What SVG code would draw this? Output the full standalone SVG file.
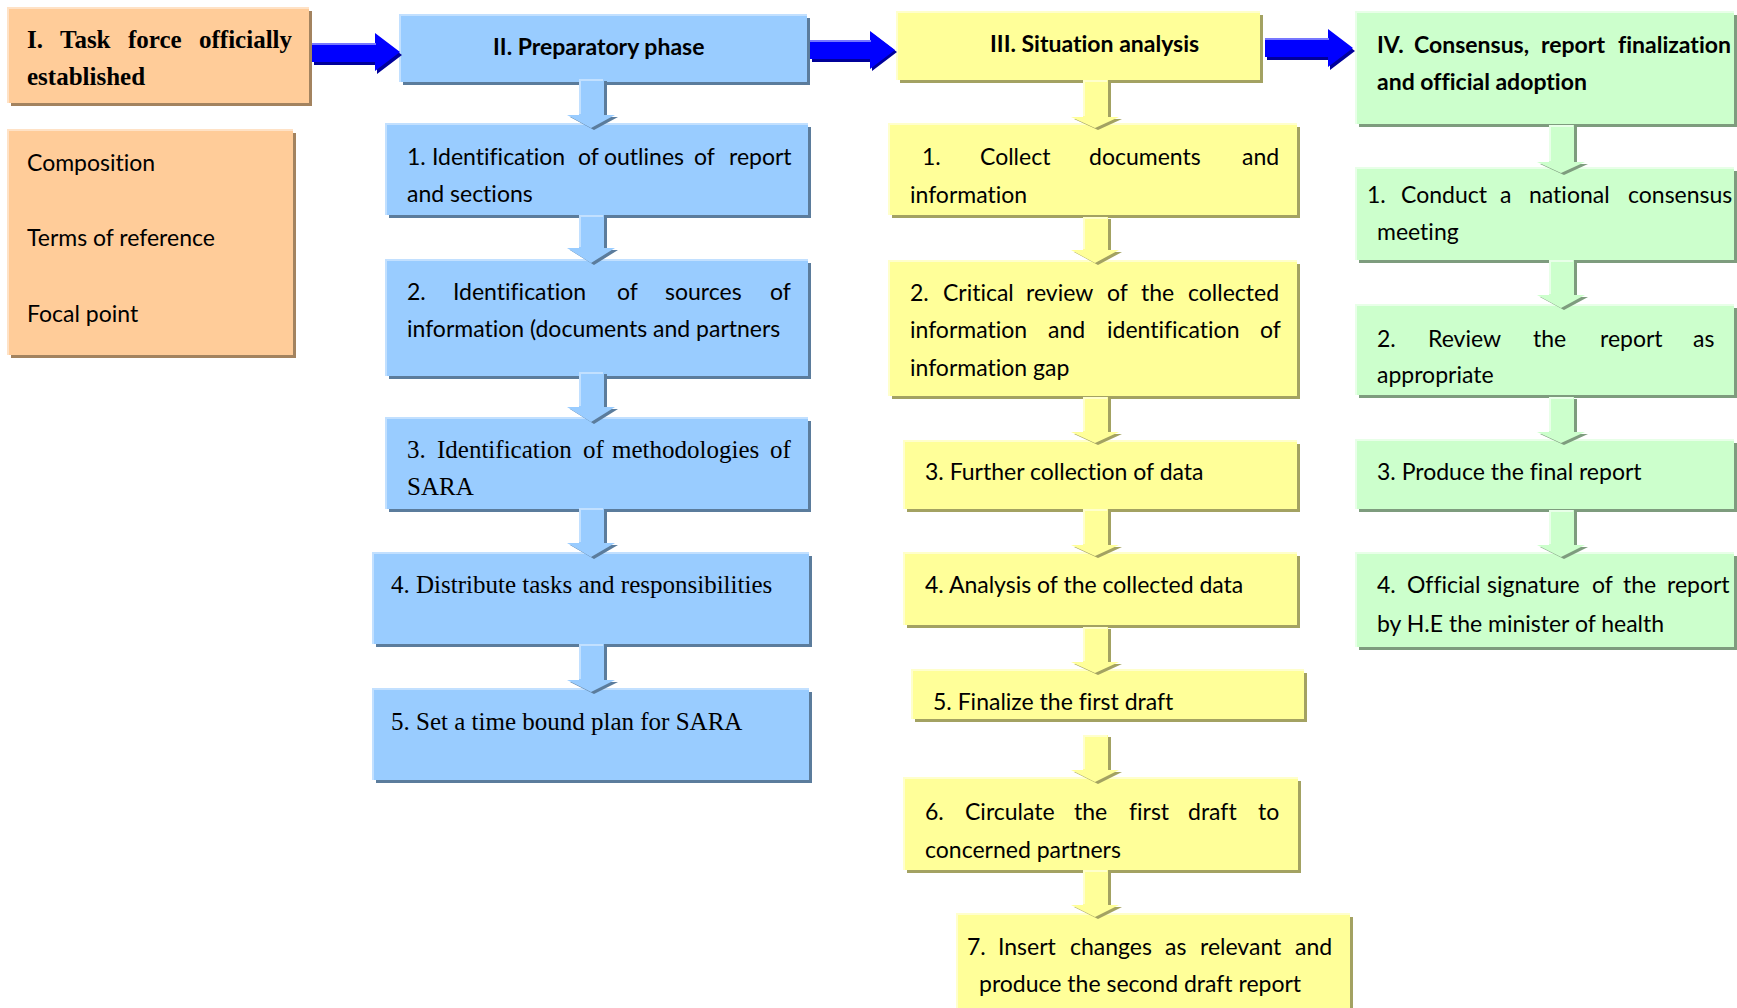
<svg xmlns="http://www.w3.org/2000/svg" width="1737" height="1008" viewBox="0 0 1737 1008">
<style>
text{font-variant-ligatures:none}
.t{font-family:Lato,"Open Sans",sans-serif;font-size:23px;fill:#000}
.tb{font-family:Lato,"Open Sans",sans-serif;font-size:23px;font-weight:bold;fill:#000}
.s{font-family:"Liberation Serif","Times New Roman",serif;font-size:25px;fill:#000}
.sb{font-family:"Liberation Serif","Times New Roman",serif;font-size:25px;font-weight:bold;fill:#000}
.pF{fill:#FFCC99}.pS{fill:#A3835F}.pH{fill:none;stroke:#FFE2C6;stroke-width:2}
.bF{fill:#99CCFF}.bS{fill:#5B7C9C}.bH{fill:none;stroke:#C2E0FF;stroke-width:2}
.yF{fill:#FFFF99}.yS{fill:#A3A262}.yH{fill:none;stroke:#FFFFCC;stroke-width:2}
.gF{fill:#CCFFCC}.gS{fill:#7E9C7E}.gH{fill:none;stroke:#E8FFE8;stroke-width:2}
.haF{fill:#0000FF}.haS{fill:#000099}.haH{fill:none;stroke:#7777FF;stroke-width:2}
</style>
<rect width="1737" height="1008" fill="#FFFFFF"/>
<g id="nodes">
 <g id="n-I">
  <rect class="pS" x="11" y="11" width="301" height="95"/>
  <rect class="pF" x="8" y="8" width="301" height="95"/>
  <path class="pH" d="M8,103 V8 H309"/>
  <text class="sb" y="48"><tspan x="27">I.</tspan><tspan x="60">Task</tspan><tspan x="128">force</tspan><tspan x="199">officially</tspan></text>
  <text class="sb" x="27" y="85">established</text>
 </g>
 <g id="n-I-list">
  <rect class="pS" x="11" y="133" width="285" height="225"/>
  <rect class="pF" x="8" y="130" width="285" height="225"/>
  <path class="pH" d="M8,355 V130 H293"/>
  <text class="t" x="27" y="171">Composition</text>
  <text class="t" x="27" y="246">Terms of reference</text>
  <text class="t" x="27" y="322">Focal point</text>
 </g>

 <g id="n-II">
  <rect class="bS" x="403" y="18" width="407" height="67"/>
  <rect class="bF" x="400" y="15" width="407" height="67"/>
  <path class="bH" d="M400,82 V15 H807"/>
  <text class="tb" x="493" y="55">II. Preparatory phase</text>
 </g>
 <g id="n-II-1">
  <rect class="bS" x="389" y="127" width="422" height="91"/>
  <rect class="bF" x="386" y="124" width="422" height="91"/>
  <path class="bH" d="M386,215 V124 H808"/>
  <text class="t" y="165"><tspan x="407">1.</tspan><tspan x="432">Identification</tspan><tspan x="578">of</tspan><tspan x="604">outlines</tspan><tspan x="694">of</tspan><tspan x="729">report</tspan></text>
  <text class="t" x="407" y="202">and sections</text>
 </g>
 <g id="n-II-2">
  <rect class="bS" x="389" y="263" width="422" height="116"/>
  <rect class="bF" x="386" y="260" width="422" height="116"/>
  <path class="bH" d="M386,376 V260 H808"/>
  <text class="t" y="300"><tspan x="407">2.</tspan><tspan x="453">Identification</tspan><tspan x="617">of</tspan><tspan x="665">sources</tspan><tspan x="770">of</tspan></text>
  <text class="t" x="407" y="337">information (documents and partners</text>
 </g>
 <g id="n-II-3">
  <rect class="bS" x="389" y="421" width="422" height="91"/>
  <rect class="bF" x="386" y="418" width="422" height="91"/>
  <path class="bH" d="M386,509 V418 H808"/>
  <text class="s" y="458"><tspan x="407">3.</tspan><tspan x="437">Identification</tspan><tspan x="583">of</tspan><tspan x="612">methodologies</tspan><tspan x="770">of</tspan></text>
  <text class="s" x="407" y="495">SARA</text>
 </g>
 <g id="n-II-4">
  <rect class="bS" x="376" y="556" width="436" height="91"/>
  <rect class="bF" x="373" y="553" width="436" height="91"/>
  <path class="bH" d="M373,644 V553 H809"/>
  <text class="s" x="391" y="593">4. Distribute tasks and responsibilities</text>
 </g>
 <g id="n-II-5">
  <rect class="bS" x="376" y="692" width="436" height="91"/>
  <rect class="bF" x="373" y="689" width="436" height="91"/>
  <path class="bH" d="M373,780 V689 H809"/>
  <text class="s" x="391" y="730">5. Set a time bound plan for SARA</text>
 </g>

 <g id="n-III">
  <rect class="yS" x="900" y="15" width="363" height="68"/>
  <rect class="yF" x="897" y="12" width="363" height="68"/>
  <path class="yH" d="M897,80 V12 H1260"/>
  <text class="tb" x="990" y="52">III. Situation analysis</text>
 </g>
 <g id="n-III-1">
  <rect class="yS" x="892" y="127" width="408" height="91"/>
  <rect class="yF" x="889" y="124" width="408" height="91"/>
  <path class="yH" d="M889,215 V124 H1297"/>
  <text class="t" y="165"><tspan x="922">1.</tspan><tspan x="980">Collect</tspan><tspan x="1089">documents</tspan><tspan x="1242">and</tspan></text>
  <text class="t" x="910" y="203">information</text>
 </g>
 <g id="n-III-2">
  <rect class="yS" x="892" y="264" width="408" height="135"/>
  <rect class="yF" x="889" y="261" width="408" height="135"/>
  <path class="yH" d="M889,396 V261 H1297"/>
  <text class="t" y="301"><tspan x="910">2.</tspan><tspan x="943">Critical</tspan><tspan x="1026">review</tspan><tspan x="1107">of</tspan><tspan x="1141">the</tspan><tspan x="1188">collected</tspan></text>
  <text class="t" y="338"><tspan x="910">information</tspan><tspan x="1048">and</tspan><tspan x="1107">identification</tspan><tspan x="1260">of</tspan></text>
  <text class="t" x="910" y="376">information gap</text>
 </g>
 <g id="n-III-3">
  <rect class="yS" x="907" y="444" width="393" height="68"/>
  <rect class="yF" x="904" y="441" width="393" height="68"/>
  <path class="yH" d="M904,509 V441 H1297"/>
  <text class="t" x="925" y="480">3. Further collection of data</text>
 </g>
 <g id="n-III-4">
  <rect class="yS" x="907" y="556" width="393" height="72"/>
  <rect class="yF" x="904" y="553" width="393" height="72"/>
  <path class="yH" d="M904,625 V553 H1297"/>
  <text class="t" x="925" y="593">4. Analysis of the collected data</text>
 </g>
 <g id="n-III-5">
  <rect class="yS" x="915" y="673" width="392" height="49"/>
  <rect class="yF" x="912" y="670" width="392" height="49"/>
  <path class="yH" d="M912,719 V670 H1304"/>
  <text class="t" x="933" y="710">5. Finalize the first draft</text>
 </g>
 <g id="n-III-6">
  <rect class="yS" x="907" y="781" width="394" height="92"/>
  <rect class="yF" x="904" y="778" width="394" height="92"/>
  <path class="yH" d="M904,870 V778 H1298"/>
  <text class="t" y="820"><tspan x="925">6.</tspan><tspan x="965">Circulate</tspan><tspan x="1074">the</tspan><tspan x="1129">first</tspan><tspan x="1188">draft</tspan><tspan x="1258">to</tspan></text>
  <text class="t" x="925" y="858">concerned partners</text>
 </g>
 <g id="n-III-7">
  <rect class="yS" x="960" y="917" width="393" height="100"/>
  <rect class="yF" x="957" y="914" width="393" height="100"/>
  <path class="yH" d="M957,1014 V914 H1350"/>
  <text class="t" y="955"><tspan x="967">7.</tspan><tspan x="998">Insert</tspan><tspan x="1070">changes</tspan><tspan x="1165">as</tspan><tspan x="1200">relevant</tspan><tspan x="1295">and</tspan></text>
  <text class="t" x="979" y="992">produce the second draft report</text>
 </g>

 <g id="n-IV">
  <rect class="gS" x="1359" y="15" width="378" height="112"/>
  <rect class="gF" x="1356" y="12" width="378" height="112"/>
  <path class="gH" d="M1356,124 V12 H1734"/>
  <text class="tb" y="53"><tspan x="1377">IV.</tspan><tspan x="1414">Consensus,</tspan><tspan x="1541">report</tspan><tspan x="1618">finalization</tspan></text>
  <text class="tb" x="1377" y="90">and official adoption</text>
 </g>
 <g id="n-IV-1">
  <rect class="gS" x="1359" y="171" width="378" height="92"/>
  <rect class="gF" x="1356" y="168" width="378" height="92"/>
  <path class="gH" d="M1356,260 V168 H1734"/>
  <text class="t" y="203"><tspan x="1367">1.</tspan><tspan x="1401">Conduct</tspan><tspan x="1500">a</tspan><tspan x="1529">national</tspan><tspan x="1628">consensus</tspan></text>
  <text class="t" x="1377" y="240">meeting</text>
 </g>
 <g id="n-IV-2">
  <rect class="gS" x="1359" y="308" width="378" height="90"/>
  <rect class="gF" x="1356" y="305" width="378" height="90"/>
  <path class="gH" d="M1356,395 V305 H1734"/>
  <text class="t" y="347"><tspan x="1377">2.</tspan><tspan x="1428">Review</tspan><tspan x="1533">the</tspan><tspan x="1600">report</tspan><tspan x="1693">as</tspan></text>
  <text class="t" x="1377" y="383">appropriate</text>
 </g>
 <g id="n-IV-3">
  <rect class="gS" x="1359" y="443" width="378" height="69"/>
  <rect class="gF" x="1356" y="440" width="378" height="69"/>
  <path class="gH" d="M1356,509 V440 H1734"/>
  <text class="t" x="1377" y="480">3. Produce the final report</text>
 </g>
 <g id="n-IV-4">
  <rect class="gS" x="1359" y="556" width="378" height="94"/>
  <rect class="gF" x="1356" y="553" width="378" height="94"/>
  <path class="gH" d="M1356,647 V553 H1734"/>
  <text class="t" y="593"><tspan x="1377">4.</tspan><tspan x="1407">Official</tspan><tspan x="1487">signature</tspan><tspan x="1592">of</tspan><tspan x="1623">the</tspan><tspan x="1667">report</tspan></text>
  <text class="t" x="1377" y="632">by H.E the minister of health</text>
 </g>
</g>

<g id="connectors">
 <g id="c-I-II">
  <path class="haS" d="M314,45 H377 V36 L402,55 L377,74 V65 H314 Z"/>
  <path class="haF" d="M312,43 H375 V33 L400,52 L375,71 V62 H312 Z"/>
  <path class="haH" d="M312,44 H376"/>
 </g>
 <g id="c-II-III">
  <path class="haS" d="M812,43 H872 V33 L897,52 L872,71 V62 H812 Z"/>
  <path class="haF" d="M810,40 H870 V31 L895,50 L870,69 V59 H810 Z"/>
  <path class="haH" d="M810,41 H871"/>
 </g>
 <g id="c-III-IV">
  <path class="haS" d="M1267,41 H1330 V32 L1355,51 L1330,70 V60 H1267 Z"/>
  <path class="haF" d="M1265,38 H1328 V29 L1353,48 L1328,67 V57 H1265 Z"/>
  <path class="haH" d="M1265,39 H1329"/>
 </g>

 <g id="c-II-a1"><path class="bS" d="M582,81 H607 V117 H618 L594,130 L570,117 H582 Z"/><path class="bF" d="M579,79 H604 V115 H615 L591,128 L567,115 H579 Z"/><path class="bH" d="M580,114 V80 H603"/></g>
 <g id="c-II-a2"><path class="bS" d="M582,217 H607 V250 H618 L594,265 L570,250 H582 Z"/><path class="bF" d="M579,215 H604 V248 H615 L591,263 L567,248 H579 Z"/><path class="bH" d="M580,247 V216 H603"/></g>
 <g id="c-II-a3"><path class="bS" d="M582,374 H607 V409 H618 L594,424 L570,409 H582 Z"/><path class="bF" d="M579,372 H604 V407 H615 L591,422 L567,407 H579 Z"/><path class="bH" d="M580,406 V373 H603"/></g>
 <g id="c-II-a4"><path class="bS" d="M582,510 H607 V545 H618 L594,559 L570,545 H582 Z"/><path class="bF" d="M579,508 H604 V543 H615 L591,557 L567,543 H579 Z"/><path class="bH" d="M580,542 V509 H603"/></g>
 <g id="c-II-a5"><path class="bS" d="M582,646 H607 V682 H618 L594,694 L570,682 H582 Z"/><path class="bF" d="M579,644 H604 V680 H615 L591,692 L567,680 H579 Z"/><path class="bH" d="M580,679 V645 H603"/></g>

 <g id="c-III-a1"><path class="yS" d="M1086,82 H1111 V119 H1122 L1098,130 L1074,119 H1086 Z"/><path class="yF" d="M1083,80 H1108 V117 H1119 L1095,128 L1071,117 H1083 Z"/><path class="yH" d="M1084,116 V81 H1107"/></g>
 <g id="c-III-a2"><path class="yS" d="M1086,219 H1111 V252 H1122 L1098,265 L1074,252 H1086 Z"/><path class="yF" d="M1083,217 H1108 V250 H1119 L1095,263 L1071,250 H1083 Z"/><path class="yH" d="M1084,249 V218 H1107"/></g>
 <g id="c-III-a3"><path class="yS" d="M1086,399 H1111 V434 H1122 L1098,445 L1074,434 H1086 Z"/><path class="yF" d="M1083,397 H1108 V432 H1119 L1095,443 L1071,432 H1083 Z"/><path class="yH" d="M1084,431 V398 H1107"/></g>
 <g id="c-III-a4"><path class="yS" d="M1086,511 H1111 V547 H1122 L1098,558 L1074,547 H1086 Z"/><path class="yF" d="M1083,509 H1108 V545 H1119 L1095,556 L1071,545 H1083 Z"/><path class="yH" d="M1084,544 V510 H1107"/></g>
 <g id="c-III-a5"><path class="yS" d="M1086,629 H1111 V664 H1122 L1098,675 L1074,664 H1086 Z"/><path class="yF" d="M1083,627 H1108 V662 H1119 L1095,673 L1071,662 H1083 Z"/><path class="yH" d="M1084,661 V628 H1107"/></g>
 <g id="c-III-a6"><path class="yS" d="M1086,737 H1111 V772 H1122 L1098,784 L1074,772 H1086 Z"/><path class="yF" d="M1083,735 H1108 V770 H1119 L1095,782 L1071,770 H1083 Z"/><path class="yH" d="M1084,769 V736 H1107"/></g>
 <g id="c-III-a7"><path class="yS" d="M1086,872 H1111 V907 H1122 L1098,919 L1074,907 H1086 Z"/><path class="yF" d="M1083,870 H1108 V905 H1119 L1095,917 L1071,905 H1083 Z"/><path class="yH" d="M1084,904 V871 H1107"/></g>

 <g id="c-IV-a1"><path class="gS" d="M1552,127 H1577 V164 H1588 L1564,175 L1540,164 H1552 Z"/><path class="gF" d="M1549,125 H1574 V162 H1585 L1561,173 L1537,162 H1549 Z"/><path class="gH" d="M1550,161 V126 H1573"/></g>
 <g id="c-IV-a2"><path class="gS" d="M1552,262 H1577 V297 H1588 L1564,310 L1540,297 H1552 Z"/><path class="gF" d="M1549,260 H1574 V295 H1585 L1561,308 L1537,295 H1549 Z"/><path class="gH" d="M1550,294 V261 H1573"/></g>
 <g id="c-IV-a3"><path class="gS" d="M1552,399 H1577 V434 H1588 L1564,445 L1540,434 H1552 Z"/><path class="gF" d="M1549,397 H1574 V432 H1585 L1561,443 L1537,432 H1549 Z"/><path class="gH" d="M1550,431 V398 H1573"/></g>
 <g id="c-IV-a4"><path class="gS" d="M1552,512 H1577 V547 H1588 L1564,559 L1540,547 H1552 Z"/><path class="gF" d="M1549,510 H1574 V545 H1585 L1561,557 L1537,545 H1549 Z"/><path class="gH" d="M1550,544 V511 H1573"/></g>
</g>
</svg>
